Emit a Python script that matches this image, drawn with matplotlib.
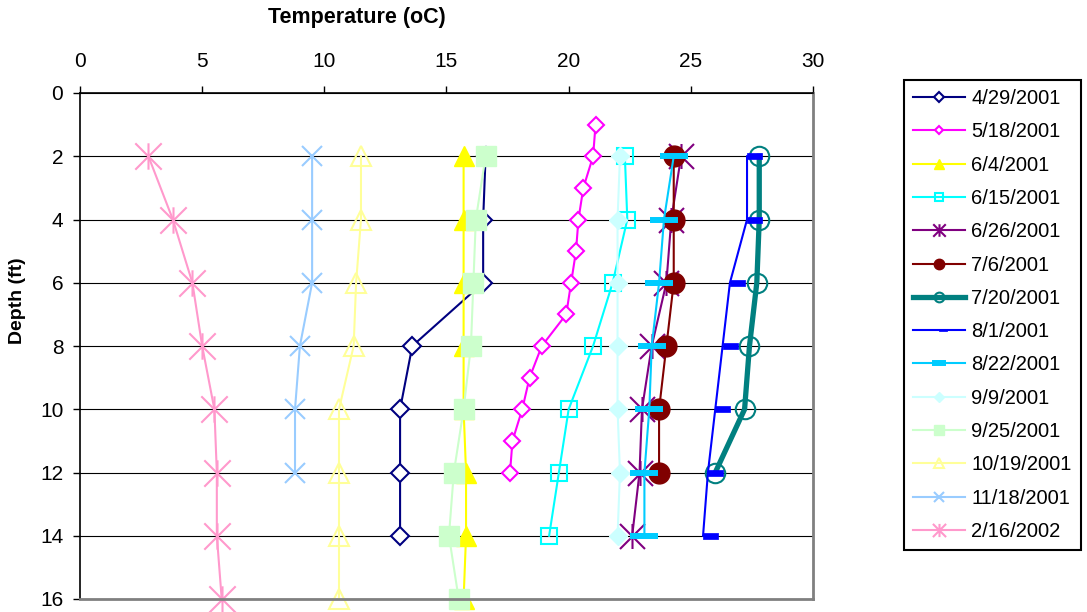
import numpy as np
import matplotlib
matplotlib.use('Agg')
import matplotlib.pyplot as plt
from matplotlib.path import Path

plt.rcParams['font.family'] = ['Liberation Sans', 'DejaVu Sans']

# depth (ft) and temperature (oC) for each sampling date
dates = ['4/29/2001', '5/18/2001', '6/4/2001', '6/15/2001', '6/26/2001', '7/6/2001',
         '7/20/2001', '8/1/2001', '8/22/2001', '9/9/2001', '9/25/2001', '10/19/2001',
         '11/18/2001', '2/16/2002']

depth_0429 = [2, 4, 6, 8, 10, 12, 14]
temp_0429 = [16.6, 16.5, 16.5, 13.6, 13.1, 13.1, 13.1]

depth_0518 = [1, 2, 3, 4, 5, 6, 7, 8, 9, 10, 11, 12]
temp_0518 = [21.1, 21.0, 20.6, 20.4, 20.3, 20.1, 19.9, 18.9, 18.4, 18.1, 17.7, 17.6]

depth_0604 = [2, 4, 6, 8, 10, 12, 14, 16]
temp_0604 = [15.7, 15.7, 15.7, 15.7, 15.7, 15.8, 15.8, 15.7]

depth_0615 = [2, 4, 6, 8, 10, 12, 14]
temp_0615 = [22.3, 22.4, 21.8, 21.0, 20.0, 19.6, 19.2]

depth_0626 = [2, 4, 6, 8, 10, 12, 14]
temp_0626 = [24.6, 24.2, 24.0, 23.4, 23.0, 22.9, 22.6]

depth_0706 = [2, 4, 6, 8, 10, 12]
temp_0706 = [24.3, 24.3, 24.3, 24.0, 23.7, 23.7]

depth_0720 = [2, 4, 6, 8, 10, 12]
temp_0720 = [27.8, 27.8, 27.7, 27.4, 27.2, 26.0]

depth_0801 = [2, 4, 6, 8, 10, 12, 14]
temp_0801 = [27.3, 27.3, 26.6, 26.3, 26.0, 25.7, 25.5]

depth_0822 = [2, 4, 6, 8, 10, 12, 14]
temp_0822 = [24.3, 23.9, 23.7, 23.4, 23.3, 23.1, 23.1]

depth_0909 = [2, 4, 6, 8, 10, 12, 14]
temp_0909 = [22.1, 22.0, 22.0, 22.0, 22.0, 22.1, 22.0]

depth_0925 = [2, 4, 6, 8, 10, 12, 14, 16]
temp_0925 = [16.6, 16.2, 16.1, 16.0, 15.7, 15.3, 15.1, 15.5]

depth_1019 = [2, 4, 6, 8, 10, 12, 14, 16]
temp_1019 = [11.5, 11.5, 11.3, 11.2, 10.6, 10.6, 10.6, 10.6]

depth_1118 = [2, 4, 6, 8, 10, 12]
temp_1118 = [9.5, 9.5, 9.5, 9.0, 8.8, 8.8]

depth_0216 = [2, 4, 6, 8, 10, 12, 14, 16]
temp_0216 = [2.8, 3.8, 4.6, 5.0, 5.5, 5.6, 5.6, 5.8]

xticks = [0, 5, 10, 15, 20, 25, 30]
yticks = [0, 2, 4, 6, 8, 10, 12, 14, 16]

#excel style markers
star = Path([(-1, -1), (1, 1), (-1, 1), (1, -1), (0, -1), (0, 1)],
            [Path.MOVETO, Path.LINETO, Path.MOVETO, Path.LINETO, Path.MOVETO, Path.LINETO])
dash_r = Path([(0, -0.17), (1, -0.17), (1, 0.17), (0, 0.17), (0, -0.17)],
              [Path.MOVETO, Path.LINETO, Path.LINETO, Path.LINETO, Path.CLOSEPOLY])

series = [
    (temp_0429, depth_0429, dict(color='#000080', marker='D', ms=9.5, mfc='white', mew=1.5, lw=1.5)),
    (temp_0518, depth_0518, dict(color='#FF00FF', marker='D', ms=8.5, mfc='white', mew=1.5, lw=1.5)),
    (temp_0604, depth_0604, dict(color='#FFFF00', marker='^', ms=14, mfc='#FFFF00', mew=1, lw=1.5)),
    (temp_0615, depth_0615, dict(color='#00FFFF', marker='s', ms=12, mfc='none', mew=1.5, lw=1.5)),
    (temp_0626, depth_0626, dict(color='#800080', marker=star, ms=18, mfc='none', mew=1.5, lw=1.5)),
    (temp_0706, depth_0706, dict(color='#800000', marker='o', ms=15, mfc='#800000', mew=1, lw=1.5)),
    (temp_0720, depth_0720, dict(color='#008080', marker='o', ms=14, mfc='none', mew=1.5, lw=3.8)),
    (temp_0801, depth_0801, dict(color='#0000FF', marker=dash_r, ms=22, mfc='#0000FF', mew=0.5, lw=1.5)),
    (temp_0822, depth_0822, dict(color='#00CCFF', marker='_', ms=19.5, mew=4.3, lw=1.5)),
    (temp_0909, depth_0909, dict(color='#CCFFFF', marker='D', ms=9.5, mfc='#CCFFFF', mew=1, lw=1.5)),
    (temp_0925, depth_0925, dict(color='#CCFFCC', marker='s', ms=15, mfc='#CCFFCC', mew=1, lw=1.5)),
    (temp_1019, depth_1019, dict(color='#FFFF99', marker='^', ms=15, mfc='none', mew=1.5, lw=1.5)),
    (temp_1118, depth_1118, dict(color='#99CCFF', marker='x', ms=15, mew=1.5, lw=1.5)),
    (temp_0216, depth_0216, dict(color='#FF99CC', marker=star, ms=19, mfc='none', mew=1.5, lw=1.5)),
]

fig = plt.figure(figsize=(10.87, 6.12), dpi=100)
ax = fig.add_axes([80/1087, 1-599/612, (813-80)/1087, (599-93)/612])

handles = []
for (t, d, st), lab in zip(series, dates):
    h, = ax.plot(t, d, label=lab, clip_on=False, **st)
    handles.append(h)

ax.set_xlim(0, 30)
ax.set_ylim(16, 0)
ax.set_xticks(xticks)
ax.set_yticks(yticks)
ax.xaxis.tick_top()
ax.tick_params(axis='x', direction='out', length=5, width=1, labelsize=15, pad=11)
ax.tick_params(axis='y', direction='out', length=5, width=1, labelsize=15, pad=7)
ax.yaxis.grid(True, color='black', lw=0.8)
ax.set_axisbelow(True)
ax.spines['top'].set_color('black')
ax.spines['left'].set_color('black')
ax.spines['top'].set_linewidth(1.2)
ax.spines['left'].set_linewidth(1.2)
ax.spines['right'].set_color('#808080')
ax.spines['bottom'].set_color('#808080')
ax.spines['right'].set_linewidth(2)
ax.spines['bottom'].set_linewidth(2)

fig.text(357/1087, 1-18/612, 'Temperature (oC)', fontsize=15.5, fontweight='bold', ha='center', va='center')
fig.text(18/1087, 1-301/612, 'Depth (ft)', fontsize=14, fontweight='bold', ha='center', va='center', rotation=90)

leg = fig.legend(handles=handles, loc='upper left', bbox_to_anchor=(904/1087, 1-80/612),
                 fontsize=14.5, markerscale=0.5, handlelength=2.6, handletextpad=0.3,
                 labelspacing=0.71, borderpad=0.45, fancybox=False, framealpha=1, borderaxespad=0)
leg.get_frame().set_edgecolor('black')
leg.get_frame().set_linewidth(1.5)

fig.savefig('out.png', dpi=100)
